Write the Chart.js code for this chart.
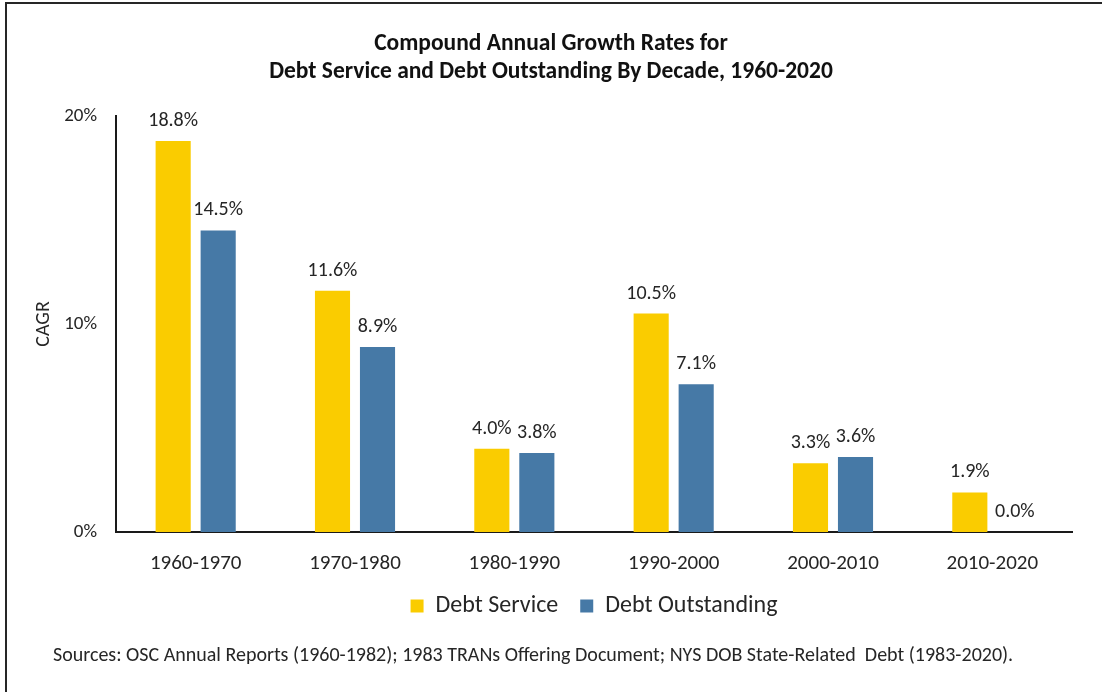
<!DOCTYPE html>
<html>
<head>
<meta charset="utf-8">
<title>Compound Annual Growth Rates</title>
<script src="https://cdn.jsdelivr.net/npm/chart.js@4.4.1/dist/chart.umd.min.js"></script>
<style>
  html, body { margin: 0; padding: 0; background: #fff; overflow: hidden; }
  #frame { position: absolute; left: 5px; top: 2px; width: 1110px; height: 710px; border: 2px solid #262626; }
  #wrap { position: absolute; left: 0; top: 0; width: 1102px; height: 692px; }
</style>
</head>
<body>
<div id="frame"></div>
<div id="wrap"><canvas id="chart" width="1102" height="692"></canvas></div>
<script>
// Decades and compound annual growth rates (%)
const decades = ['1960-1970', '1970-1980', '1980-1990', '1990-2000', '2000-2010', '2010-2020'];
const debtService = [18.8, 11.6, 4.0, 10.5, 3.3, 1.9];
const debtOutstanding = [14.5, 8.9, 3.8, 7.1, 3.6, 0.0];
const yTicks = [0, 10, 20];
const titleLines = ['Compound Annual Growth Rates for', 'Debt Service and Debt Outstanding By Decade, 1960-2020'];
const sourceNote = 'Sources: OSC Annual Reports (1960-1982); 1983 TRANs Offering Document; NYS DOB State-Related  Debt (1983-2020).';

const FONT = 'Carlito, Calibri, Lato, sans-serif';
const TEXT = '#262626';

// Percentage labels above each bar
const valueLabels = {
  id: 'valueLabels',
  afterDatasetsDraw(chart) {
    const ctx = chart.ctx;
    ctx.save();
    ctx.font = '20px ' + FONT;
    ctx.fillStyle = TEXT;
    ctx.textAlign = 'center';
    ctx.textBaseline = 'middle';
    chart.data.datasets.forEach((ds, i) => {
      const meta = chart.getDatasetMeta(i);
      meta.data.forEach((bar, j) => {
        ctx.fillText(ds.data[j].toFixed(1) + '%', bar.x, bar.y - 20);
      });
    });
    ctx.restore();
  }
};

// Source note under the legend
const sourceText = {
  id: 'sourceText',
  afterDraw(chart) {
    const ctx = chart.ctx;
    ctx.save();
    ctx.font = '20px ' + FONT;
    ctx.fillStyle = TEXT;
    ctx.textAlign = 'left';
    ctx.textBaseline = 'middle';
    ctx.fillText(sourceNote, 53, 656);
    ctx.restore();
  }
};

new Chart(document.getElementById('chart'), {
  type: 'bar',
  data: {
    labels: decades,
    datasets: [
      { label: 'Debt Service', data: debtService, backgroundColor: '#FACC00' },
      { label: 'Debt Outstanding', data: debtOutstanding, backgroundColor: '#4679A6' }
    ]
  },
  options: {
    responsive: false,
    animation: false,
    devicePixelRatio: 1,
    categoryPercentage: 0.565,
    barPercentage: 0.78,
    layout: { padding: { left: 0, right: 0, top: 0, bottom: 64 } },
    scales: {
      x: {
        grid: { display: false, drawTicks: false },
        border: { display: true, color: '#1a1a1a', width: 2 },
        ticks: { color: TEXT, font: { family: FONT, size: 21 }, padding: 19 },
        afterFit(scale) { scale.height = 40; }
      },
      y: {
        min: 0, max: 20,
        afterBuildTicks(scale) { scale.ticks = yTicks.map(v => ({ value: v })); },
        grid: { display: false, drawTicks: false },
        border: { display: true, color: '#1a1a1a', width: 2 },
        ticks: { color: TEXT, font: { family: FONT, size: 19 }, padding: 19, callback: v => v + '%' },
        title: { display: true, text: 'CAGR', color: TEXT, font: { family: FONT, size: 20 }, padding: { top: 32, bottom: 0 } },
        afterFit(scale) { scale.width = 116; }
      },
      // empty right-hand margin axis so the plot ends short of the frame
      yRight: {
        position: 'right',
        display: true,
        min: 0, max: 20,
        grid: { display: false, drawTicks: false },
        border: { display: false },
        ticks: { display: false },
        afterFit(scale) { scale.width = 30; }
      }
    },
    plugins: {
      title: {
        display: true,
        text: titleLines,
        color: '#111',
        font: { family: FONT, size: 23.5, weight: 'bold', lineHeight: 28 / 23.5 },
        padding: { top: 30, bottom: 30 }
      },
      legend: {
        position: 'bottom',
        fullSize: false,
        labels: {
          color: TEXT,
          font: { family: FONT, size: 24 },
          boxWidth: 13, boxHeight: 13,
          padding: 22
        }
      },
      tooltip: { enabled: false }
    }
  },
  plugins: [valueLabels, sourceText]
});
</script>
</body>
</html>
